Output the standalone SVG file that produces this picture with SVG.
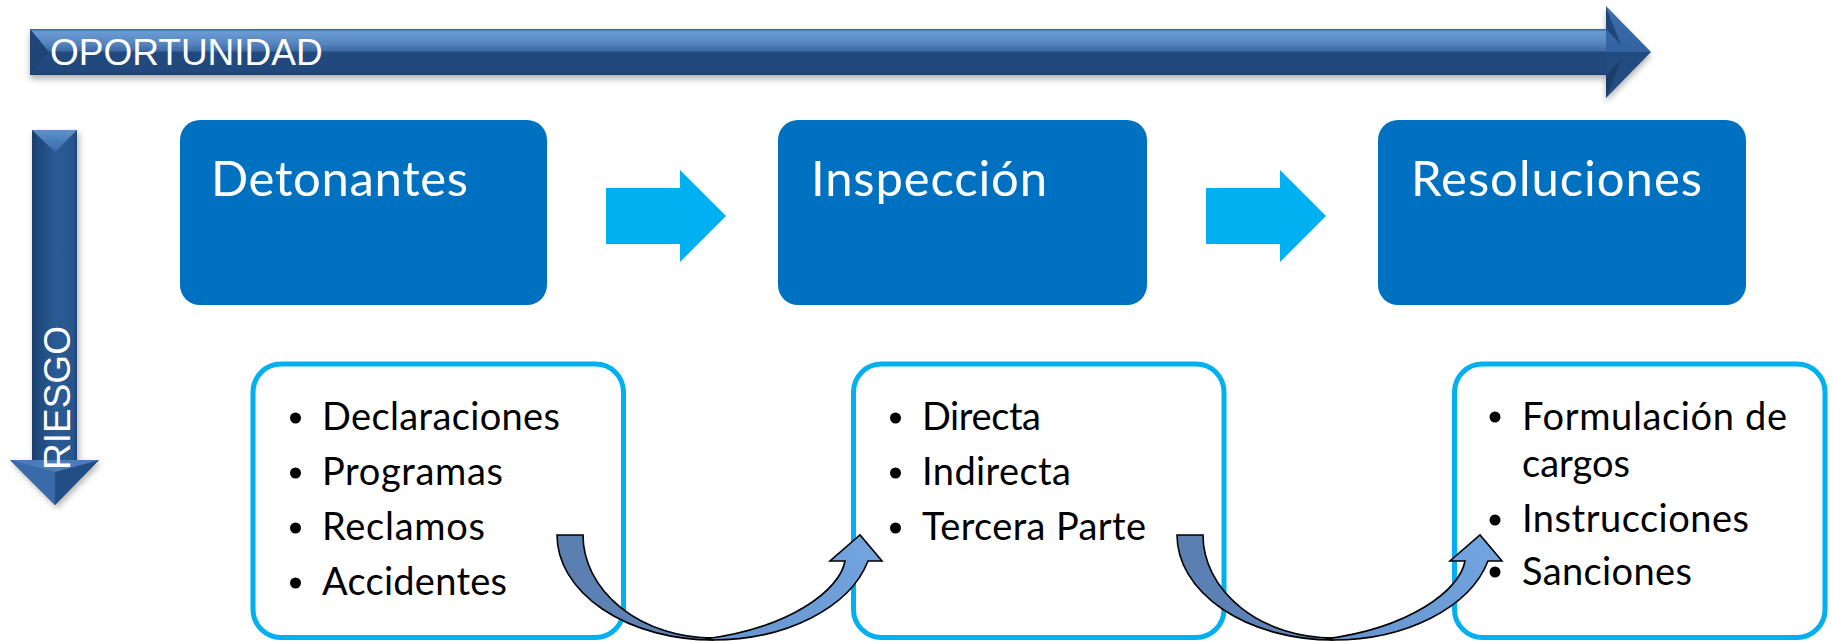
<svg xmlns="http://www.w3.org/2000/svg" width="1833" height="641" viewBox="0 0 1833 641">
  <defs>
    <style>
      .axis-label { font-family: "Liberation Sans", Arial, sans-serif; font-size: 37px; fill: #ffffff; }
      .hdr { font-family: Lato, "Open Sans", sans-serif; font-size: 49px; fill: #ffffff; }
      .item { font-family: Lato, "Open Sans", sans-serif; font-size: 38px; fill: #000000; }
      .stage { fill: #0070c0; }
      .list { fill: #ffffff; stroke: #00b0f0; stroke-width: 5; }
      .bullet { fill: #000000; }
      .flow { fill: #00b0f0; }
      .curve { stroke: #000000; stroke-width: 1.6; stroke-linejoin: miter; }
    </style>
    <linearGradient id="shaftH" x1="0" y1="29" x2="0" y2="75" gradientUnits="userSpaceOnUse">
      <stop offset="0" stop-color="#34609a"/>
      <stop offset="0.06" stop-color="#6b9bd5"/>
      <stop offset="0.32" stop-color="#5584bf"/>
      <stop offset="0.48" stop-color="#3d69a3"/>
      <stop offset="0.5" stop-color="#214a7e"/>
      <stop offset="0.95" stop-color="#214a7e"/>
      <stop offset="1" stop-color="#1c416f"/>
    </linearGradient>
    <linearGradient id="headH" x1="0" y1="6" x2="0" y2="98" gradientUnits="userSpaceOnUse">
      <stop offset="0" stop-color="#3e6eaa"/>
      <stop offset="0.5" stop-color="#3363a0"/>
      <stop offset="0.5" stop-color="#224c80"/>
      <stop offset="1" stop-color="#224c80"/>
    </linearGradient>
    <linearGradient id="shaftV" x1="32" y1="0" x2="77" y2="0" gradientUnits="userSpaceOnUse">
      <stop offset="0" stop-color="#1b3f6d"/>
      <stop offset="0.15" stop-color="#214a7d"/>
      <stop offset="0.55" stop-color="#2c5b95"/>
      <stop offset="0.9" stop-color="#28558e"/>
      <stop offset="1" stop-color="#1f477a"/>
    </linearGradient>
    <linearGradient id="bevelV" x1="0" y1="130" x2="0" y2="152" gradientUnits="userSpaceOnUse">
      <stop offset="0" stop-color="#5e90cf"/>
      <stop offset="1" stop-color="#3a6ba8"/>
    </linearGradient>
    <linearGradient id="darkArc" x1="557" y1="535" x2="713" y2="640" gradientUnits="userSpaceOnUse">
      <stop offset="0" stop-color="#5b7eb1"/>
      <stop offset="1" stop-color="#5f85ba"/>
    </linearGradient>
    <linearGradient id="lightArc" x1="705" y1="640" x2="880" y2="540" gradientUnits="userSpaceOnUse">
      <stop offset="0" stop-color="#6792cc"/>
      <stop offset="1" stop-color="#72a5e0"/>
    </linearGradient>
    <filter id="shadow" x="-5%" y="-30%" width="110%" height="160%">
      <feDropShadow dx="0" dy="4" stdDeviation="3" flood-color="#000000" flood-opacity="0.3"/>
    </filter>
    <filter id="shadowV" x="-40%" y="-5%" width="180%" height="110%">
      <feDropShadow dx="2" dy="3" stdDeviation="3" flood-color="#000000" flood-opacity="0.3"/>
    </filter>
  </defs>

  <rect x="0" y="0" width="1833" height="641" fill="#ffffff"/>

  <!-- Horizontal axis: OPORTUNIDAD -->
  <g id="axis-oportunidad">
    <g filter="url(#shadow)">
      <rect x="30" y="29" width="1577" height="46" fill="url(#shaftH)"/>
      <polygon points="1606,6 1651,52 1606,98" fill="url(#headH)"/>
    </g>
    <polygon points="30,29 49,52 30,75" fill="#1e4576"/>
    <polygon points="1606,7 1621,45 1606,29" fill="#1e4679"/>
    <polygon points="1606,98 1621,60 1606,75" fill="#1a3d69"/>
    <text class="axis-label" x="50" y="65">OPORTUNIDAD</text>
  </g>

  <!-- Vertical axis: RIESGO -->
  <g id="axis-riesgo">
    <g filter="url(#shadowV)">
      <rect x="32" y="130" width="45" height="331" fill="url(#shaftV)"/>
      <polygon points="10,460 99,460 55,505" fill="#2a5791"/>
    </g>
    <polygon points="32,130 77,130 55,152" fill="url(#bevelV)"/>
    <polygon points="10,460 55,472 55,505" fill="#3a6ba8"/>
    <polygon points="99,460 55,472 55,505" fill="#234e85"/>
    <polygon points="10,460 99,460 55,472" fill="#4b7dbc"/>
    <text class="axis-label" transform="translate(70,470) rotate(-90)" x="0" y="0">RIESGO</text>
  </g>

  <!-- Stage boxes -->
  <g id="node-detonantes">
    <rect class="stage" x="180" y="120" width="367" height="185" rx="20"/>
    <text class="hdr" x="211" y="196" textLength="257">Detonantes</text>
  </g>
  <g id="node-inspeccion">
    <rect class="stage" x="778" y="120" width="369" height="185" rx="20"/>
    <text class="hdr" x="811" y="196" textLength="236">Inspección</text>
  </g>
  <g id="node-resoluciones">
    <rect class="stage" x="1378" y="120" width="368" height="185" rx="20"/>
    <text class="hdr" x="1411" y="196" textLength="291">Resoluciones</text>
  </g>

  <!-- Detail lists -->
  <g id="list-detonantes">
    <rect class="list" x="253" y="364" width="370.5" height="273.5" rx="28"/>
    <circle class="bullet" cx="295.5" cy="418" r="5.5"/>
    <circle class="bullet" cx="295.5" cy="473" r="5.5"/>
    <circle class="bullet" cx="295.5" cy="528" r="5.5"/>
    <circle class="bullet" cx="295.5" cy="583" r="5.5"/>
    <text class="item" x="322" y="430" textLength="238">Declaraciones</text>
    <text class="item" x="322" y="485" textLength="181">Programas</text>
    <text class="item" x="322" y="540" textLength="163">Reclamos</text>
    <text class="item" x="322" y="595" textLength="185">Accidentes</text>
  </g>
  <g id="list-inspeccion">
    <rect class="list" x="853.5" y="364" width="370.5" height="273.5" rx="28"/>
    <circle class="bullet" cx="895.5" cy="418" r="5.5"/>
    <circle class="bullet" cx="895.5" cy="473" r="5.5"/>
    <circle class="bullet" cx="895.5" cy="528" r="5.5"/>
    <text class="item" x="922" y="430" textLength="119">Directa</text>
    <text class="item" x="922" y="485" textLength="149">Indirecta</text>
    <text class="item" x="922" y="540" textLength="224">Tercera Parte</text>
  </g>
  <g id="list-resoluciones">
    <rect class="list" x="1454.5" y="364" width="370.5" height="273.5" rx="28"/>
    <circle class="bullet" cx="1495" cy="417" r="5.5"/>
    <circle class="bullet" cx="1495" cy="520" r="5.5"/>
    <circle class="bullet" cx="1495" cy="572" r="5.5"/>
    <text class="item" x="1522" y="430" textLength="265">Formulación de</text>
    <text class="item" x="1522" y="477" textLength="108">cargos</text>
    <text class="item" x="1522" y="532" textLength="227">Instrucciones</text>
    <text class="item" x="1522" y="585" textLength="170">Sanciones</text>
  </g>

  <!-- Connectors -->
  <g id="connectors">
    <path class="flow" d="M606,188 H680 V170 L726,216 L680,262 V244 H606 Z"/>
    <path class="flow" d="M1206,188 H1280 V170 L1326,216 L1280,262 V244 H1206 Z"/>
    <g id="curve-1">
      <path class="curve" fill="url(#darkArc)" d="M557,535 L583,535 A130,103 0 0 0 713,638 L713,640 A156,105 0 0 1 557,535 Z"/>
      <path class="curve" fill="url(#lightArc)" d="M705,639 C790,628 840,590 845,561 L830,561 L860,535 L882,561 L868,561 A160,105 0 0 1 713,640 Z"/>
    </g>
    <g id="curve-2" transform="translate(620,0)">
      <path class="curve" fill="url(#darkArc)" d="M557,535 L583,535 A130,103 0 0 0 713,638 L713,640 A156,105 0 0 1 557,535 Z"/>
      <path class="curve" fill="url(#lightArc)" d="M705,639 C790,628 840,590 845,561 L830,561 L860,535 L882,561 L868,561 A160,105 0 0 1 713,640 Z"/>
    </g>
  </g>
</svg>
